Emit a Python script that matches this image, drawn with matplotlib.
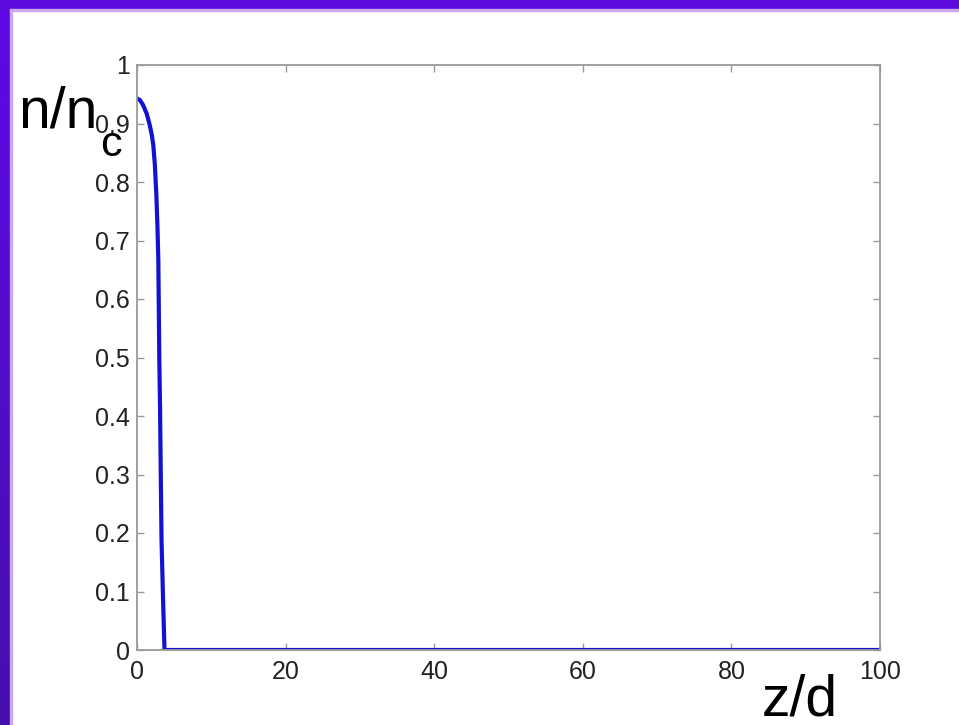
import matplotlib
matplotlib.use("Agg")
import matplotlib.pyplot as plt
import numpy as np
from matplotlib.patches import Rectangle

plt.rcParams['font.family'] = ['Liberation Sans', 'DejaVu Sans']

# density profile n/n_c versus z/d
z_vals = [0.0, 0.4, 0.8, 1.3, 1.7, 2.0, 2.2, 2.4, 2.6, 2.75, 2.87, 3.0, 3.1, 3.2, 3.3, 3.5, 3.7, 20.0, 40.0, 60.0, 80.0, 100.0]
n_vals = [0.943, 0.940, 0.932, 0.917, 0.898, 0.880, 0.862, 0.830, 0.78, 0.725, 0.667, 0.50, 0.416, 0.30, 0.188, 0.09, 0.0, 0.0, 0.0, 0.0, 0.0, 0.0]

x_ticks = [0, 20, 40, 60, 80, 100]
y_ticks = [0, 0.1, 0.2, 0.3, 0.4, 0.5, 0.6, 0.7, 0.8, 0.9, 1]
y_tick_labels = ['0', '0.1', '0.2', '0.3', '0.4', '0.5', '0.6', '0.7', '0.8', '0.9', '1']

W, H = 959, 725
fig = plt.figure(figsize=(W / 100, H / 100), dpi=100)
fig.patch.set_facecolor('white')

# purple frame (top and left strips) with slight gradient on left
bg = fig.add_axes([0, 0, 1, 1], zorder=-10)
bg.set_xlim(0, W)
bg.set_ylim(H, 0)
bg.axis('off')
grad = np.linspace(0, 1, 100).reshape(-1, 1)
c_top = np.array([0x5e, 0x08, 0xe6]) / 255
c_bot = np.array([0x46, 0x10, 0xae]) / 255
img = c_top[None, None, :] * (1 - grad[:, :, None]) + c_bot[None, None, :] * grad[:, :, None]
bg.imshow(img, extent=[0, 10, H, 0], aspect='auto', zorder=1)
bg.add_patch(Rectangle((0, 0), W, 9, color='#5a0adc', zorder=2))
bg.add_patch(Rectangle((10, 9), 2, H, color='#c9a8f0', zorder=2))
bg.add_patch(Rectangle((10, 9), W, 1.5, color='#c9a8f0', zorder=2))

ax = fig.add_axes([137 / W, 1 - 650 / H, (880 - 137) / W, (650 - 65) / H])
ax.plot(z_vals, n_vals, color='#1212d0', linewidth=3.0,
        solid_joinstyle='round', solid_capstyle='round')
ax.set_xlim(0, 100)
ax.set_ylim(0, 1)
ax.set_xticks(x_ticks)
ax.set_yticks(y_ticks)
ax.set_yticklabels(y_tick_labels)
ax.tick_params(direction='in', length=5, width=1, color='#999999',
               top=True, right=True, labelsize=18, labelcolor='#222222')
ax.tick_params(axis='x', pad=7)
ax.tick_params(axis='y', pad=5)
for s in ax.spines.values():
    s.set_color('#9a9a9a')
    s.set_linewidth(1.3)

# axis labels (MATLAB style placement)
fig.text(18 / W, 1 - 127 / H, 'n/n', fontsize=41, color='black', ha='left', va='baseline')
fig.text(100 / W, 1 - 156 / H, 'c', fontsize=31, color='black', ha='left', va='baseline')
fig.text(762 / W, 1 - 716 / H, 'z/d', fontsize=41, color='black', ha='left', va='baseline')

fig.savefig('out.png', dpi=100, facecolor='white')
